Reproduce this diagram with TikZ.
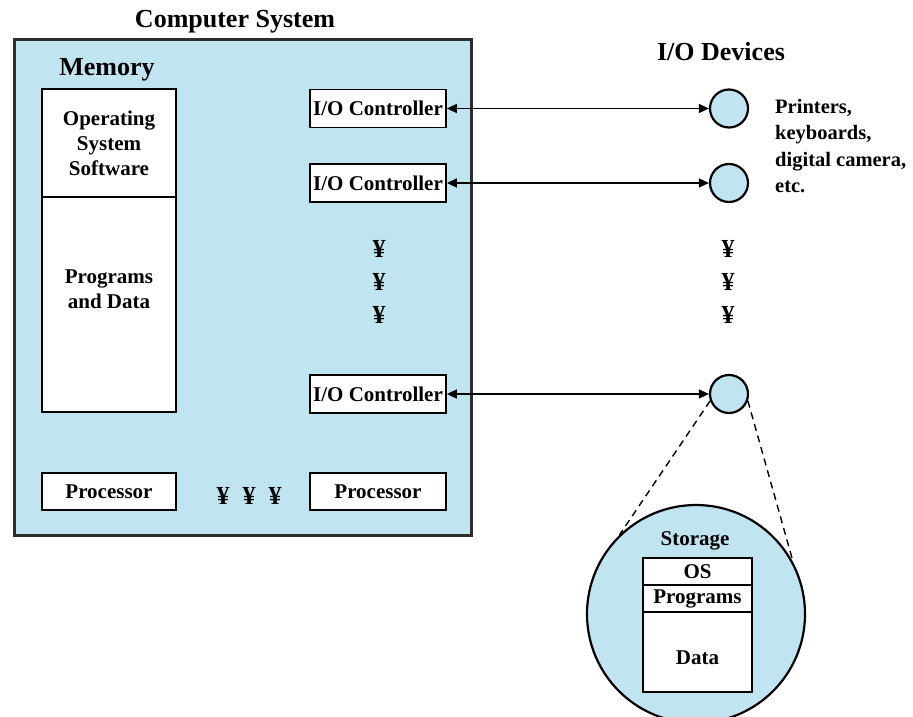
\documentclass[tikz,border=0pt]{standalone}
\usepackage{fontspec}
\setmainfont{Liberation Serif}
\usetikzlibrary{arrows.meta}
\definecolor{lblue}{RGB}{192,229,240}
\definecolor{frame}{RGB}{45,45,45}
\begin{document}
\begin{tikzpicture}[x=1pt,y=-1pt,
  font=\bfseries\fontsize{21}{25}\selectfont,
  head/.style={font=\bfseries\fontsize{26}{30}\selectfont, inner sep=0pt},
  wbox/.style={draw, fill=white, line width=1.8pt, inner sep=0pt, minimum width=#1},
  wbox/.default=136,
  dev/.style={circle, draw, fill=lblue, line width=2.2pt, minimum size=38, inner sep=0pt},
  link/.style={line width=1.5pt, {Triangle[length=10pt,width=9pt]}-{Triangle[length=10pt,width=9pt]}},
  dots/.style={inner sep=0pt, font=\bfseries\fontsize{26}{30}\selectfont},
  zoomline/.style={line width=1.4pt, dash pattern=on 7pt off 5pt}]
\useasboundingbox (0,0) rectangle (913,717);

% Computer system frame
\node[draw=frame, line width=3pt, fill=lblue, minimum width=457, minimum height=495, inner sep=0pt] (sys) at (242.5,287.5) {};
\node[head] (systitle) at (235,22) {Computer System};
\node[head] (memtitle) at (107,70) {Memory};

% Memory column
\node[wbox=134, minimum height=108, align=center] (memos) at (109,143) {Operating\\System\\Software};
\node[wbox=134, minimum height=215] (memprog) at (109,304.5) {};
\node[align=center, inner sep=0pt] (memprogtxt) at (109,289) {Programs\\and Data};

% I/O controllers
\node[wbox, minimum height=38] (ioc1) at (378,108.5) {I/O Controller};
\node[wbox, minimum height=38] (ioc2) at (378,183) {I/O Controller};
\node[wbox, minimum height=38] (ioc3) at (378,394) {I/O Controller};

\node[dots] (d1) at (379,249) {¥};
\node[dots] (d2) at (379,282) {¥};
\node[dots] (d3) at (379,315) {¥};

% Processors
\node[wbox=134, minimum height=37] (proc1) at (109,491.5) {Processor};
\node[wbox=136, minimum height=37] (proc2) at (378,491.5) {Processor};
\node[dots] (pd1) at (223,496) {¥};
\node[dots] (pd2) at (249,496) {¥};
\node[dots] (pd3) at (275,496) {¥};

% I/O devices
\node[head] (devtitle) at (721,52) {I/O Devices};
\node[dev] (dev1) at (729,108.5) {};
\node[dev] (dev2) at (729,183) {};
\node[dev] (dev3) at (729,394) {};
\node[align=left, anchor=north west, inner sep=0pt, font=\bfseries\fontsize{20.5}{26.5}\selectfont] (devtxt) at (775,99) {Printers,\\keyboards,\\digital camera,\\etc.};

\node[dots] (e1) at (728,249) {¥};
\node[dots] (e2) at (728,282) {¥};
\node[dots] (e3) at (728,315) {¥};

\draw[link] (ioc1.east) -- (dev1.west);
\draw[link] (ioc2.east) -- (dev2.west);
\draw[link] (ioc3.east) -- (dev3.west);

% Storage zoom
\node[circle, draw, fill=lblue, line width=2.2pt, minimum size=218, inner sep=0pt] (stor) at (696,614) {};
\draw[zoomline] (dev3.200) -- (stor.134);
\draw[zoomline] (dev3.-20) -- (stor.28);
\node[inner sep=0pt] (stortitle) at (695,541) {Storage};
\node[wbox=109, minimum height=27] (sos) at (697.5,571.5) {OS};
\node[wbox=109, minimum height=27] (sprog) at (697.5,598.5) {Programs};
\node[wbox=109, minimum height=80] (sdata) at (697.5,652) {};
\node[inner sep=0pt] (sdatatxt) at (697.5,658) {Data};
\end{tikzpicture}
\end{document}
